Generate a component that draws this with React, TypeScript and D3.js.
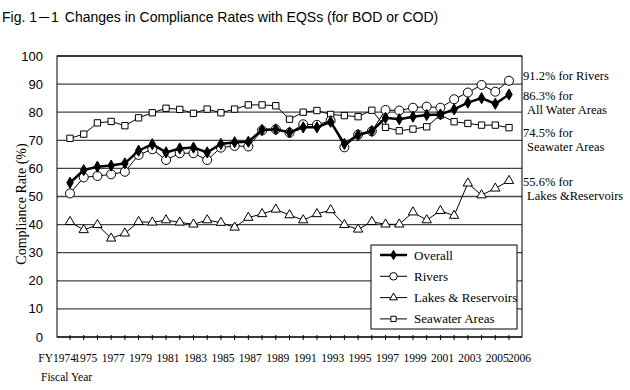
import React from 'react'
import * as d3 from 'd3'

const width = 630
const height = 390
const plot = {left: 57, right: 522, top: 56, bottom: 337}

const years = [
  1974, 1975, 1976, 1977, 1978, 1979, 1980, 1981, 1982, 1983, 1984,
  1985, 1986, 1987, 1988, 1989, 1990, 1991, 1992, 1993, 1994, 1995,
  1996, 1997, 1998, 1999, 2000, 2001, 2002, 2003, 2004, 2005, 2006,
]
const tickYears = [
  1974, 1975, 1977, 1979, 1981, 1983, 1985, 1987, 1989, 1991, 1993,
  1995, 1997, 1999, 2001, 2003, 2005, 2006,
]
const yTicks = [0, 10, 20, 30, 40, 50, 60, 70, 80, 90, 100]

const overall = [
  54.9, 59.4, 60.6, 61.0, 61.8, 66.3, 68.6, 65.7, 67.1, 67.4, 65.7,
  68.7, 69.3, 69.5, 73.7, 73.9, 72.8, 74.6, 74.6, 76.6, 68.7, 71.9,
  73.3, 78.0, 77.5, 78.4, 79.0, 79.2, 81.0, 83.4, 85.0, 83.0, 86.3,
]
const rivers = [
  51.1, 56.8, 57.3, 57.9, 58.8, 64.8, 66.8, 63.0, 65.4, 65.4, 63.0,
  67.4, 68.0, 67.8, 73.5, 73.9, 72.7, 75.7, 75.5, 77.0, 67.5, 72.0,
  73.2, 80.8, 80.6, 81.6, 82.0, 81.6, 84.6, 87.0, 89.7, 87.3, 91.2,
]
const lakes = [
  41.0, 38.1, 39.9, 35.1, 36.9, 41.0, 40.8, 41.6, 40.8, 40.1, 41.6,
  40.7, 39.0, 42.5, 43.8, 45.4, 43.4, 41.6, 43.8, 45.2, 39.9, 38.3,
  41.0, 40.1, 40.1, 44.4, 41.6, 44.9, 43.2, 54.7, 50.5, 52.9, 55.6,
]
const seawater = [
  70.7, 72.2, 76.2, 76.7, 75.2, 78.0, 79.8, 81.4, 81.0, 79.6, 81.1,
  79.8, 81.1, 82.6, 82.6, 82.3, 77.5, 80.0, 80.6, 79.2, 78.8, 78.4,
  80.7, 74.6, 73.4, 74.0, 74.8, 79.0, 76.6, 76.0, 75.4, 75.4, 74.5,
]

const serif = '"Liberation Serif", "Times New Roman", serif'
const sans = '"Liberation Sans", Arial, sans-serif'
const cjk = '"Noto Sans CJK JP", sans-serif'

const x = d3.scalePoint<number>().domain(years).range([70, 509])
const y = d3.scaleLinear().domain([0, 100]).range([plot.bottom, plot.top])

const series = [
  {name: 'Seawater Areas', values: seawater, symbol: d3.symbolSquare, size: 40, fill: 'white', lw: 1},
  {name: 'Lakes & Reservoirs', values: lakes, symbol: d3.symbolTriangle, size: 38, fill: 'white', lw: 1},
  {name: 'Rivers', values: rivers, symbol: d3.symbolCircle, size: 64, fill: 'white', lw: 1},
  {name: 'Overall', values: overall, symbol: d3.symbolDiamond, size: 36, fill: 'black', lw: 2.5},
]
const legendOrder = ['Overall', 'Rivers', 'Lakes & Reservoirs', 'Seawater Areas']

const notes = [
  {lines: ['91.2% for Rivers'], y: 80},
  {lines: ['86.3% for', 'All Water Areas'], y: 100},
  {lines: ['74.5% for', 'Seawater Areas'], y: 137},
  {lines: ['55.6% for', 'Lakes &Reservoirs'], y: 186},
]

const App = () => {
  const line = d3
    .line<number>()
    .x((d, i) => x(years[i]) as number)
    .y(d => y(d))

  const legend = {x: 371, y: 245, w: 146, h: 84}

  return (
    <svg
      width={width}
      height={height}
      style={{position: 'absolute', left: 0, top: 0, background: 'white'}}
    >
      <text x={2} y={22} fontFamily={sans} fontSize={14}>
        Fig. 1<tspan fontFamily={cjk}>－</tspan>1
        <tspan dx={6}>Changes in Compliance Rates with EQSs (for BOD or COD)</tspan>
      </text>

      {/* grid */}
      {yTicks.map(t => (
        <line
          key={t}
          x1={plot.left}
          x2={plot.right}
          y1={y(t)}
          y2={y(t)}
          stroke="#444"
          strokeWidth={1.3}
        />
      ))}
      <rect
        x={plot.left}
        y={plot.top}
        width={plot.right - plot.left}
        height={plot.bottom - plot.top}
        fill="none"
        stroke="black"
        strokeWidth={1}
      />
      {years.map(yr => (
        <line
          key={yr}
          x1={x(yr)}
          x2={x(yr)}
          y1={plot.bottom - 2}
          y2={plot.bottom + 3}
          stroke="black"
        />
      ))}

      {/* y axis labels */}
      {yTicks.map(t => (
        <text
          key={t}
          x={43}
          y={y(t) + 4.5}
          textAnchor="end"
          fontFamily={sans}
          fontSize={13}
        >
          {t}
        </text>
      ))}
      <text
        transform="translate(26, 204) rotate(-90)"
        textAnchor="middle"
        fontFamily={serif}
        fontSize={14}
      >
        Compliance Rate (%)
      </text>

      {/* x axis labels */}
      {tickYears.map((yr, i) => {
        const first = i === 0
        const last = i === tickYears.length - 1
        return (
          <text
            key={yr}
            x={(x(yr) as number) + (first ? 6 : last ? -1 : 2)}
            y={362}
            textAnchor={first ? 'end' : last ? 'start' : 'middle'}
            fontFamily={serif}
            fontSize={11.5}
          >
            {first ? 'FY' + yr : yr}
          </text>
        )
      })}
      <text x={41} y={381} fontFamily={serif} fontSize={11.5}>
        Fiscal Year
      </text>

      {/* series */}
      {series.map(s => (
        <g key={s.name}>
          <path d={line(s.values) || ''} fill="none" stroke="black" strokeWidth={s.lw} />
          {s.values.map((v, i) => (
            <path
              key={i}
              transform={`translate(${x(years[i])},${y(v)})`}
              d={d3.symbol(s.symbol, s.size)() || ''}
              fill={s.fill}
              stroke="black"
              strokeWidth={1}
            />
          ))}
        </g>
      ))}

      {/* legend */}
      <rect x={legend.x} y={legend.y} width={legend.w} height={legend.h} fill="white" stroke="black" />
      {legendOrder.map((name, i) => {
        const s = series.find(d => d.name === name)!
        const cy = legend.y + 10 + i * 21.3
        return (
          <g key={name}>
            <line x1={380} x2={407} y1={cy} y2={cy} stroke="black" strokeWidth={s.lw} />
            <path
              transform={`translate(393.5,${cy})`}
              d={d3.symbol(s.symbol, s.size * 0.7)() || ''}
              fill={s.fill}
              stroke="black"
            />
            <text x={414} y={cy + 4.5} fontFamily={serif} fontSize={13}>
              {name}
            </text>
          </g>
        )
      })}

      {/* end notes */}
      {notes.map(n =>
        n.lines.map((l, j) => (
          <text
            key={l}
            x={523 + (j > 0 ? 4 : 0)}
            y={n.y + j * 13.5}
            fontFamily={serif}
            fontSize={12.5}
          >
            {l}
          </text>
        )),
      )}
    </svg>
  )
}

export default App
